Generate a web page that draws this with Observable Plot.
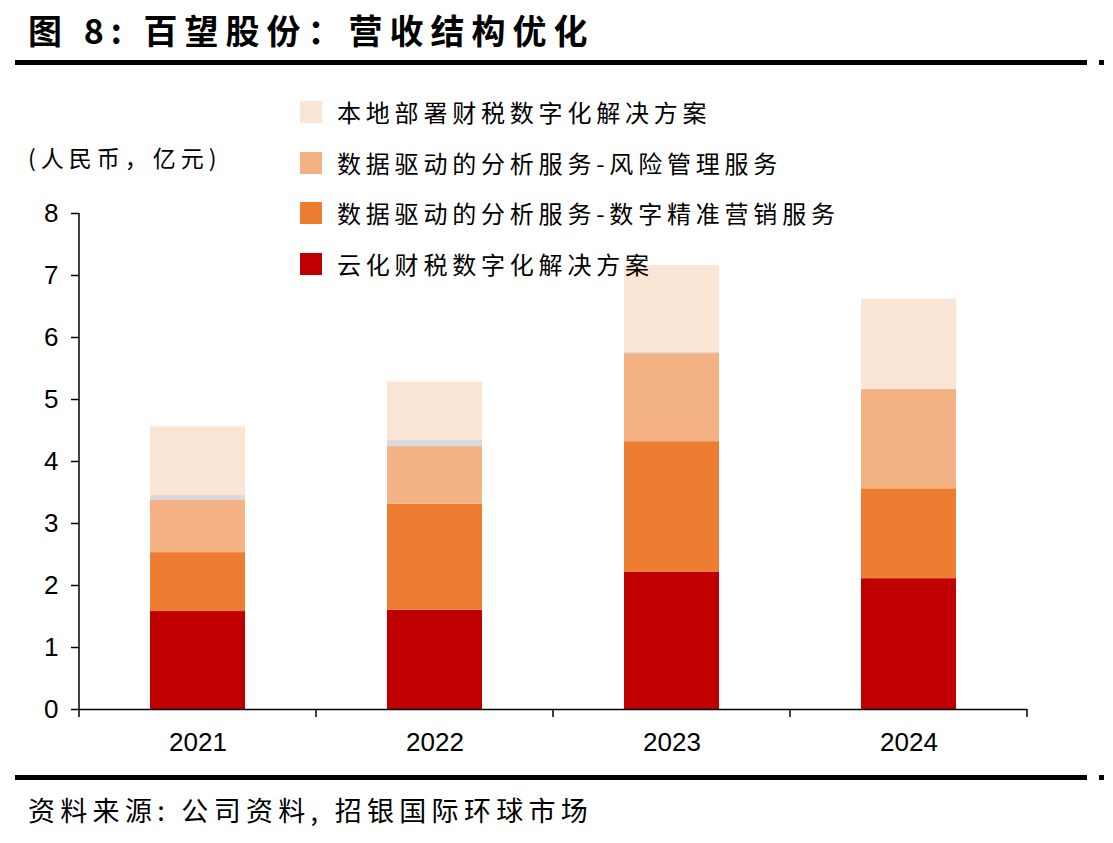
<!DOCTYPE html>
<html><head><meta charset="utf-8">
<script src="https://cdn.jsdelivr.net/npm/d3@7"></script>
<script src="https://cdn.jsdelivr.net/npm/@observablehq/plot@0.6"></script>
<style>
body{margin:0;background:#fff;}
#wrap{position:relative;width:1113px;height:843px;overflow:hidden;font-family:"Noto Sans CJK SC","Noto Sans",sans-serif;color:#000;}
.abs{position:absolute;white-space:nowrap;}
#title{left:28px;top:10px;font-size:34px;line-height:40px;font-weight:700;letter-spacing:7px;}
.rule{position:absolute;background:#000;}
#unit{left:28px;top:141px;font-size:23px;line-height:32px;letter-spacing:5px;}
#footer{left:28px;top:792px;font-size:27px;line-height:36px;letter-spacing:5.3px;}
.leg{position:absolute;left:300px;font-size:24px;line-height:30px;letter-spacing:4.8px;}
.leg .sw{position:absolute;left:0;top:4px;width:22px;height:22px;}
.leg .tx{position:absolute;left:37px;top:0;white-space:nowrap;}
#chart{position:absolute;left:0;top:90px;}
</style></head><body>
<div id="wrap">
  <div id="title" class="abs">图 8: 百望股份：营收结构优化</div>
  <div class="rule" style="left:15px;top:60px;width:1072px;height:5px;"></div>
  <div class="rule" style="left:1099px;top:60px;width:5px;height:5px;"></div>
  <div id="unit" class="abs">(人民币，亿元)</div>
  <div id="chart"></div>
  <div id="legend"></div>
  <div class="rule" style="left:15px;top:775px;width:1072px;height:5px;"></div>
  <div class="rule" style="left:1099px;top:775px;width:5px;height:5px;"></div>
  <div id="footer" class="abs">资料来源: 公司资料, 招银国际环球市场</div>
</div>
<script>
// ---- data ----
const years = ["2021", "2022", "2023", "2024"];
const seriesNames = [
  "云化财税数字化解决方案",
  "数据驱动的分析服务-数字精准营销服务",
  "数据驱动的分析服务-风险管理服务",
  "其他",
  "本地部署财税数字化解决方案"
];
const cloudSaaS   = [1.58, 1.60, 2.21, 2.11];
const marketing   = [0.95, 1.71, 2.11, 1.45];
const riskMgmt    = [0.84, 0.93, 1.42, 1.60];
const others      = [0.08, 0.10, 0.02, 0.01];
const onPremise   = [1.11, 0.94, 1.40, 1.45];
const seriesColors = ["#C00000", "#ED7D31", "#F4B183", "#D9D9D9", "#FBE5D6"];
const yTicks = [0, 1, 2, 3, 4, 5, 6, 7, 8];
const legendOrder = [4, 2, 1, 0];

const seriesValues = [cloudSaaS, marketing, riskMgmt, others, onPremise];
const table = [];
seriesNames.forEach((s, i) => years.forEach((y, j) => table.push({year: y, series: s, value: seriesValues[i][j]})));

function axisFrame(index, scales, values, dims) {
  const x = scales.x, y = scales.y;
  const gap = (x.step() - x.bandwidth()) / 2;
  const xs = years.map(d => x(d) - gap).concat([x(years[years.length - 1]) + x.bandwidth() + gap]);
  const y0 = dims.height - dims.marginBottom;
  const g = d3.create("svg:g").attr("stroke", "#000").attr("stroke-width", 1.5);
  for (const xv of xs) g.append("line").attr("x1", xv).attr("x2", xv).attr("y1", y0).attr("y2", y0 + 8);
  g.append("line").attr("x1", dims.marginLeft).attr("x2", dims.marginLeft).attr("y1", y(yTicks[yTicks.length - 1])).attr("y2", y(0));
  return g.node();
}

const chart = Plot.plot({
  width: 1113,
  height: 680,
  marginLeft: 79,
  marginRight: 86,
  marginTop: 123,
  marginBottom: 61,
  style: {fontFamily: "'Liberation Sans', Arial, sans-serif", fontSize: "26px", color: "#000", background: "transparent", overflow: "visible"},
  x: {domain: years, paddingInner: 0.6, paddingOuter: 0.3, label: null},
  y: {domain: [0, 8], label: null},
  color: {domain: seriesNames, range: seriesColors},
  marks: [
    Plot.barY(table, {x: "year", y: "value", fill: "series"}),
    Plot.axisY({ticks: yTicks, tickSize: 8, tickPadding: 13, label: null, strokeWidth: 1.5}),
    Plot.axisX({tickSize: 0, tickPadding: 23, label: null}),
    Plot.ruleY([0], {stroke: "#000", strokeWidth: 1.5}),
    axisFrame
  ]
});
document.getElementById("chart").appendChild(chart);

const legendTops = [97, 148, 198, 249];
const leg = document.getElementById("legend");
legendOrder.forEach((si, k) => {
  const item = document.createElement("div");
  item.className = "leg";
  item.style.top = legendTops[k] + "px";
  item.innerHTML = `<div class="sw" style="background:${seriesColors[si]}"></div><div class="tx">${seriesNames[si]}</div>`;
  leg.appendChild(item);
});
</script>
</body></html>
